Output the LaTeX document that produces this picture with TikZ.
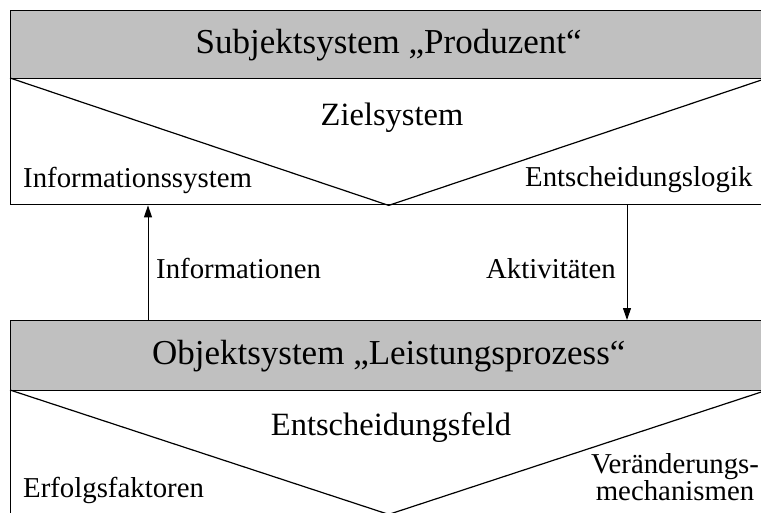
\documentclass[tikz,border=0pt]{standalone}
\usepackage{fontspec}
\setmainfont{Liberation Serif}
\usetikzlibrary{arrows.meta}
\definecolor{boxgray}{HTML}{C0C0C0}
\tikzset{
  graybox/.style={draw=black, line width=1.4pt, fill=boxgray, anchor=north west, inner sep=0pt,
                  minimum width=756pt, font=\fontsize{35}{40}\selectfont},
  whitebox/.style={draw=black, line width=1.4pt, fill=white, anchor=north west, inner sep=0pt,
                  minimum width=756pt},
  vline/.style={line width=1.2pt, line join=miter},
  lab/.style={inner sep=0pt, font=\fontsize{28.8}{27}\selectfont},
  biglab/.style={inner sep=0pt, font=\fontsize{32.5}{38}\selectfont},
  arr/.style={line width=1pt, -{Triangle[length=12pt,width=8pt]}}
}
\begin{document}
\begin{tikzpicture}[x=1pt,y=-1pt]
\useasboundingbox (0,0) rectangle (761,512);
\clip (0,0) rectangle (761,512);
\fill[white] (0,0) rectangle (761,512);
% top system
\node[whitebox, minimum height=126pt] (subjlow) at (10,78) {};
\node[graybox, minimum height=68pt] (subj) at (10,10) {Subjektsystem „Produzent“};
\draw[vline] (subjlow.north west) -- (subjlow.south) -- (subjlow.north east);
\node[biglab, anchor=base] (ziel) at (392,125) {Zielsystem};
\node[lab, anchor=base west] (infsys) at (23,187) {Informationssystem};
\node[lab, anchor=base west] (logik) at (525,186) {Entscheidungslogik};
% bottom system
\node[whitebox, minimum height=123pt] (objlow) at (10,390) {};
\node[graybox, minimum height=70pt] (obj) at (10,320) {Objektsystem „Leistungsprozess“};
\draw[vline] (objlow.north west) -- (objlow.south) -- (objlow.north east);
\node[biglab, anchor=base] (feld) at (391,435) {Entscheidungsfeld};
\node[lab, anchor=base west] (erfolg) at (23,497) {Erfolgsfaktoren};
\node[lab, anchor=base, align=center] (veraend) at (675,500) {Veränderungs-\\mechanismen};
% connectors
\draw[arr] ([xshift=138pt]obj.north west) -- ([xshift=138pt]subjlow.south west);
\draw[arr] ([xshift=617pt]subjlow.south west) -- ([xshift=617pt]obj.north west);
\node[lab, anchor=base west] (infos) at (156,278) {Informationen};
\node[lab, anchor=base west] (akt) at (486,278) {Aktivitäten};
\end{tikzpicture}
\end{document}
